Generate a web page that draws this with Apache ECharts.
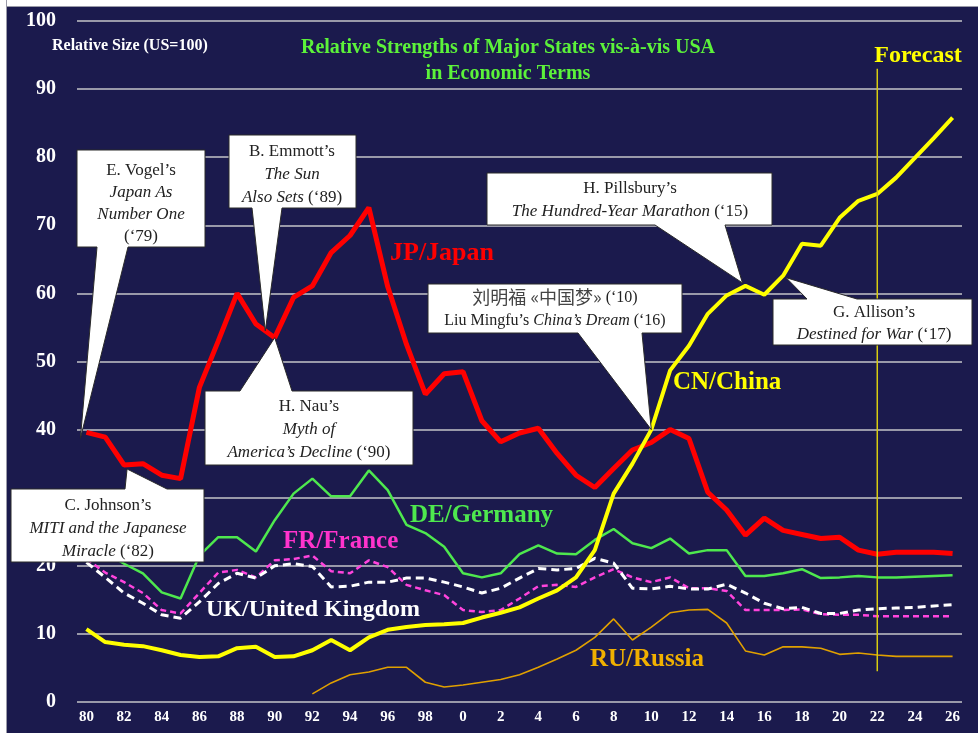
<!DOCTYPE html>
<html>
<head>
<meta charset="utf-8">
<script src="https://cdn.jsdelivr.net/npm/echarts@6/dist/echarts.min.js"></script>
<style>
html, body { margin: 0; padding: 0; background: #fff; }
#chart { position: absolute; left: 0; top: 0; width: 978px; height: 733px; background: #1b1a4d; }
.edge { position: absolute; background: #fff; }
</style>
</head>
<body>
<div id="chart"></div>
<div class="edge" style="left:0;top:0;width:978px;height:6px;border-bottom:1px solid #9a9aa8"></div>
<div class="edge" style="left:0;top:0;width:6px;height:733px;border-right:1px solid #9a9aa8"></div>
<script>
// years 1980..2026, labelled the way the original slide does
var years = ['80','81','82','83','84','85','86','87','88','89',
             '90','91','92','93','94','95','96','97','98','99',
             '0','1','2','3','4','5','6','7','8','9',
             '10','11','12','13','14','15','16','17','18','19',
             '20','21','22','23','24','25','26'];

// relative size, US = 100
var japan = [39.6, 38.9, 34.8, 35, 33.3, 32.8, 46.2, 53, 60, 55.5,
             53.5, 59.4, 61.1, 66, 68.5, 72.6, 61, 52.5, 45.2, 48.2,
             48.5, 41.3, 38.2, 39.5, 40.2, 36.5, 33.3, 31.5, 34.3, 37,
             38.1, 40, 38.7, 30.8, 28.2, 24.5, 27, 25.2, 24.6, 24,
             24.2, 22.3, 21.7, 22, 22, 22, 21.8];
var china = [10.7, 8.8, 8.4, 8.2, 7.6, 6.9, 6.6, 6.7, 7.9, 8.1,
             6.6, 6.7, 7.6, 9.1, 7.6, 9.5, 10.6, 11, 11.3, 11.4,
             11.6, 12.4, 13.1, 13.9, 15.2, 16.4, 18.3, 22.3, 30.6, 35,
             40, 48.7, 52.3, 57, 59.7, 61.1, 59.8, 62.6, 67.3, 67,
             71.1, 73.6, 74.6, 77, 79.9, 82.8, 85.8];
var germany = [23, 22, 20.3, 18.9, 16.1, 15.2, 21.5, 24.2, 24.2, 22.1,
               26.7, 30.6, 32.8, 30.2, 30.2, 34, 31.1, 26, 24.8, 22.8,
               18.9, 18.3, 18.9, 21.7, 23, 21.8, 21.7, 23.8, 25.4, 23.3,
               22.6, 24, 21.8, 22.3, 22.3, 18.5, 18.5, 18.9, 19.5, 18.2,
               18.3, 18.5, 18.3, 18.3, 18.4, 18.5, 18.6];
var france = [21, 19, 17.6, 16, 13.5, 13, 16, 19, 19.4, 18.3,
              20.8, 21, 21.5, 19.2, 18.9, 20.8, 19.8, 17.2, 16.4, 15.7,
              13.5, 13.2, 13.5, 15.2, 17, 17.2, 16.9, 18.3, 19.5, 18.3,
              17.6, 18.3, 16.7, 16.7, 16.3, 13.5, 13.5, 13.5, 13.6, 12.9,
              12.8, 12.8, 12.6, 12.6, 12.6, 12.6, 12.6];
var uk = [20.5, 18.3, 16, 14.5, 12.8, 12.3, 14.7, 17.4, 18.9, 18.2,
          20, 20.3, 19.9, 16.9, 17, 17.6, 17.6, 18.2, 18.2, 17.6,
          16.9, 16, 16.7, 18.2, 19.6, 19.4, 19.6, 21.1, 20.4, 16.7,
          16.6, 17, 16.6, 16.6, 17.3, 16, 14.5, 13.7, 13.9, 13,
          13, 13.5, 13.7, 13.8, 13.9, 14.1, 14.3];
var russia = [null, null, null, null, null, null, null, null, null, null,
              null, null, 1.2, 2.8, 4, 4.4, 5.1, 5.1, 2.9, 2.2,
              2.5, 2.9, 3.3, 4, 5.1, 6.3, 7.6, 9.5, 12.2, 9.1,
              11, 13.1, 13.5, 13.6, 11.6, 7.5, 6.9, 8.1, 8.1, 7.9,
              7, 7.2, 6.9, 6.7, 6.7, 6.7, 6.7];

// forecast starts here
var forecastYear = '22';
var forecastSpan = [4.5, 93];

var serif = '"Liberation Serif", "Times New Roman", serif';
var cjk = '"Noto Sans CJK SC", "Liberation Serif", serif';

var chart = echarts.init(document.getElementById('chart'));

function line(name, data, color, width, type) {
    return {
        name: name, type: 'line', data: data,
        symbol: 'none', connectNulls: false,
        itemStyle: { color: color },
        lineStyle: { color: color, width: width, type: type || 'solid' }
    };
}

chart.setOption({
    backgroundColor: 'transparent',
    animation: false,
    grid: { left: 77, right: 16, top: 21, bottom: 31 },
    xAxis: {
        type: 'category', data: years, boundaryGap: true,
        axisLine: { show: false }, axisTick: { show: false },
        axisLabel: { interval: 1, color: '#fff', fontFamily: serif, fontWeight: 'bold', fontSize: 15, margin: 8 }
    },
    yAxis: {
        type: 'value', min: 0, max: 100, interval: 10,
        axisLine: { show: false }, axisTick: { show: false },
        axisLabel: { color: '#fff', fontFamily: serif, fontWeight: 'bold', fontSize: 20, margin: 21 },
        splitLine: { lineStyle: { color: '#c4c4c8', width: 1.5 } }
    },
    series: [
        line('RU/Russia', russia, '#e0a000', 1.6),
        line('FR/France', france, '#ff44dd', 2.5, [6, 4]),
        line('UK/United Kingdom', uk, '#ffffff', 3, [8, 5]),
        line('DE/Germany', germany, '#4ee84e', 2.5),
        line('JP/Japan', japan, '#ff0000', 5),
        line('CN/China', china, '#ffff00', 4)
    ]
});

function px(i, v) {
    return chart.convertToPixel({ gridIndex: 0 }, [i, v]);
}

function callout(x0, y0, x1, y1, side, b1, b2, tip) {
    var pts;
    if (side === 'bottom') {
        pts = [[x0, y0], [x1, y0], [x1, y1], [b2, y1], tip, [b1, y1], [x0, y1]];
    } else {
        pts = [[x0, y0], [b1, y0], tip, [b2, y0], [x1, y0], [x1, y1], [x0, y1]];
    }
    return {
        type: 'polygon', shape: { points: pts }, z: 100,
        style: { fill: '#fff', stroke: '#2a2a2a', lineWidth: 1 }
    };
}

function boxText(cx, cy, text, size, lh) {
    return {
        type: 'text', x: cx, y: cy, z: 101,
        style: {
            text: text, align: 'center', verticalAlign: 'middle',
            fontFamily: serif, fontSize: size, fill: '#222',
            rich: {
                r: { fontFamily: serif, fontSize: size, fill: '#222', lineHeight: lh },
                i: { fontFamily: serif, fontSize: size, fontStyle: 'italic', fill: '#222', lineHeight: lh },
                c: { fontFamily: cjk, fontSize: size + 2, fill: '#444', lineHeight: lh }
            }
        }
    };
}

function label(x, y, text, color, size) {
    return {
        type: 'text', x: x, y: y, z: 90,
        style: {
            text: text, fill: color, fontFamily: serif, fontWeight: 'bold',
            fontSize: size, align: 'left', verticalAlign: 'middle'
        }
    };
}

var fIdx = years.indexOf(forecastYear);
var f0 = px(fIdx, forecastSpan[0]), f1 = px(fIdx, forecastSpan[1]);
var pV = px(0, japan[0]);
var pE1 = px(9, japan[9]), pE2 = px(10, japan[10]);
var pJ = px(2, japan[2]);
var pP = px(35, china[35]);
var pL = px(30, china[30]);
var pA = px(37, china[37]);

chart.setOption({
    graphic: [
        // forecast divider
        { type: 'line', z: 5, shape: { x1: f0[0], y1: f0[1], x2: f1[0], y2: f1[1] }, style: { stroke: '#d8cc10', lineWidth: 1.5 } },

        // titles
        { type: 'text', x: 52, y: 46, z: 90, style: { text: 'Relative Size (US=100)', fill: '#fff', fontFamily: serif, fontWeight: 'bold', fontSize: 16, align: 'left', verticalAlign: 'middle' } },
        { type: 'text', x: 508, y: 61, z: 90, style: { text: 'Relative Strengths of Major States vis-à-vis USA\nin Economic Terms', fill: '#5cf23a', fontFamily: serif, fontWeight: 'bold', fontSize: 20, lineHeight: 26, align: 'center', verticalAlign: 'middle' } },
        { type: 'text', x: 918, y: 56, z: 90, style: { text: 'Forecast', fill: '#ffff00', fontFamily: serif, fontWeight: 'bold', fontSize: 24, align: 'center', verticalAlign: 'middle' } },

        // series names
        label(390, 253, 'JP/Japan', '#ff0000', 26),
        label(673, 383, 'CN/China', '#ffff00', 25),
        label(410, 516, 'DE/Germany', '#4ee84e', 25),
        label(283, 542, 'FR/France', '#ff33cc', 25),
        label(206, 610, 'UK/United Kingdom', '#ffffff', 24),
        label(590, 660, 'RU/Russia', '#f0b000', 25),

        // callouts
        callout(77, 150, 205, 247, 'bottom', 97, 128, [pV[0] - 6, pV[1] + 6]),
        boxText(141, 204, '{r|E. Vogel’s}\n{i|Japan As}\n{i|Number One}\n{r|(‘79)}', 17, 22),

        callout(229, 135, 356, 208, 'bottom', 252, 282, [(pE1[0] + pE2[0]) / 2, (pE1[1] + pE2[1]) / 2]),
        boxText(292, 175, '{r|B. Emmott’s}\n{i|The Sun}\n{i|Also Sets} {r|(‘89)}', 17, 23),

        callout(205, 391, 413, 465, 'top', 240, 292, px(10, japan[10])),
        boxText(309, 430, '{r|H. Nau’s}\n{i|Myth of}\n{i|America’s Decline} {r|(‘90)}', 17, 23),

        callout(11, 489, 204, 562, 'top', 125, 167, [pJ[0] + 3, pJ[1] + 4]),
        boxText(108, 529, '{r|C. Johnson’s}\n{i|MITI and the Japanese}\n{i|Miracle} {r|(‘82)}', 17, 23),

        callout(487, 173, 772, 225, 'bottom', 655, 725, [pP[0] - 3, pP[1] - 3]),
        boxText(630, 200, '{r|H. Pillsbury’s}\n{i|The Hundred-Year Marathon} {r|(‘15)}', 17, 23),

        callout(428, 284, 682, 333, 'bottom', 578, 642, pL),
        boxText(555, 309, '{c|刘明福 «中国梦»} {r|(‘10)}\n{r|Liu Mingfu’s} {i|China’s Dream} {r|(‘16)}', 16, 23),

        callout(773, 299, 972, 345, 'top', 807, 857, [pA[0] + 3, pA[1] + 2]),
        boxText(874, 324, '{r|G. Allison’s}\n{i|Destined for War} {r|(‘17)}', 17, 22)
    ]
});
</script>
</body>
</html>
